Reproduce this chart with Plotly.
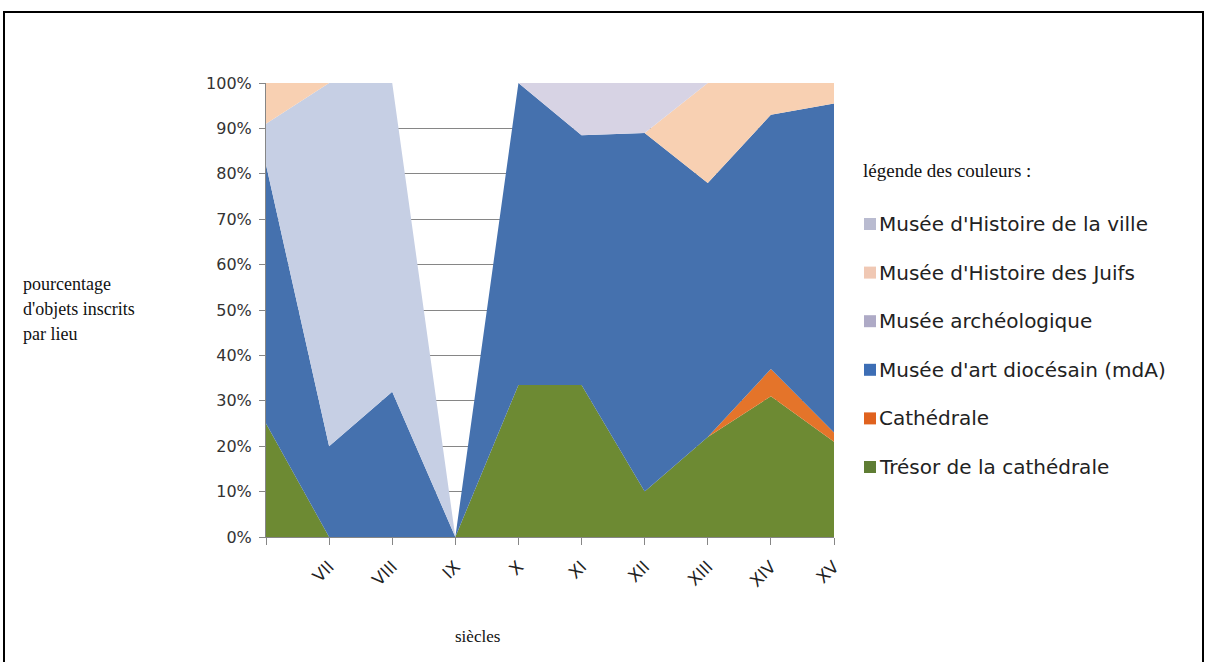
import plotly.graph_objects as go

# Centuries (the first position sits on the value axis and carries no label)
centuries = ["", "VII", "VIII", "IX", "X", "XI", "XII", "XIII", "XIV", "XV"]

# Share of registered objects per place, in percent (stacked bottom -> top)
tresor = [25, 0, 0, 0, 33.5, 33.5, 10, 22, 31, 21]
cathedrale = [0, 0, 0, 0, 0, 0, 0, 0, 6, 2]
musee_art_diocesain = [57, 20, 32, 0, 66.5, 55, 79, 56, 56, 72.5]
musee_archeologique = [9, 80, 68, 0, 0, 0, 0, 0, 0, 0]
musee_juifs = [9, 0, 0, 0, 0, 0, 0, 22, 7, 4.5]
musee_ville = [0, 0, 0, 0, 0, 11.5, 11, 0, 0, 0]

series_names = [
    "Trésor de la cathédrale",
    "Cathédrale",
    "Musée d'art diocésain (mdA)",
    "Musée archéologique",
    "Musée d'Histoire des Juifs",
    "Musée d'Histoire de la ville",
]
series_values = [tresor, cathedrale, musee_art_diocesain,
                 musee_archeologique, musee_juifs, musee_ville]
fill_colors = ["#6d8a33", "#e4742a", "#4571ae", "#c6cfe4", "#f8d0b2", "#d7d3e4"]
swatch_colors = ["#5f7d34", "#e0621e", "#3d6eb5", "#aeaac6", "#f0c8b4", "#b9bbd0"]

x_pos = list(range(len(centuries)))

fig = go.Figure()
for name, vals, col in zip(series_names, series_values, fill_colors):
    fig.add_trace(go.Scatter(
        x=x_pos, y=vals, name=name, mode="none",
        stackgroup="one", fill="tonexty", fillcolor=col,
        showlegend=False, hoverinfo="name+y",
    ))

W, H = 1207, 662
L, R, T, B = 266, 834, 83, 537


def px(xp):
    return (xp - L) / (R - L)


def py(yp):
    return (B - yp) / (B - T)


axis_grey = "#868686"
serif = "Liberation Serif"

shapes = [
    # outer frame of the chart
    dict(type="rect", xref="paper", yref="paper",
         x0=px(4), x1=px(1203), y0=py(680), y1=py(12),
         line=dict(color="black", width=2), fillcolor="rgba(0,0,0,0)"),
]
annotations = []

# y axis title on three lines
for i, line in enumerate(["pourcentage", "d'objets inscrits", "par lieu"]):
    annotations.append(dict(
        xref="paper", yref="paper", x=px(21), y=py(284 + 25 * i),
        xanchor="left", yanchor="middle", showarrow=False, text=line,
        font=dict(family=serif, size=18, color="#111111")))

# x axis title
annotations.append(dict(
    xref="paper", yref="paper", x=px(477), y=py(636),
    xanchor="center", yanchor="middle", showarrow=False, text="siècles",
    font=dict(family=serif, size=17, color="#111111")))

# colour key, top series first
annotations.append(dict(
    xref="paper", yref="paper", x=px(861), y=py(171),
    xanchor="left", yanchor="middle", showarrow=False,
    text="légende des couleurs :",
    font=dict(family=serif, size=19, color="#111111")))

key_order = list(range(len(series_names)))[::-1]
for row, idx in enumerate(key_order):
    yc = 224 + 48.6 * row
    shapes.append(dict(
        type="rect", xref="paper", yref="paper",
        x0=px(864), x1=px(876), y0=py(yc + 6), y1=py(yc - 6),
        line=dict(width=0), fillcolor=swatch_colors[idx]))
    annotations.append(dict(
        xref="paper", yref="paper", x=px(877), y=py(yc),
        xanchor="left", yanchor="middle", showarrow=False,
        text=series_names[idx],
        font=dict(family="DejaVu Sans", size=20, color="#222222")))

fig.update_layout(
    width=W, height=H,
    margin=dict(l=L, r=W - R, t=T, b=H - B, pad=0),
    paper_bgcolor="white", plot_bgcolor="white",
    showlegend=False,
    shapes=shapes, annotations=annotations,
    xaxis=dict(
        range=[0, len(centuries) - 1], tickmode="array",
        tickvals=x_pos, ticktext=centuries, tickangle=-45,
        ticks="outside", ticklen=7, tickcolor=axis_grey,
        ticklabelstandoff=5,
        showline=True, linecolor=axis_grey, linewidth=1,
        showgrid=False, zeroline=False,
        tickfont=dict(family="DejaVu Sans", size=17, color="#222222"),
    ),
    yaxis=dict(
        range=[0, 100], dtick=10, ticksuffix="%",
        ticks="outside", ticklen=6, tickcolor=axis_grey,
        ticklabelstandoff=4,
        showline=True, linecolor=axis_grey, linewidth=1,
        showgrid=True, gridcolor=axis_grey, gridwidth=1,
        zeroline=False,
        tickfont=dict(family="DejaVu Sans", size=16, color="#333333"),
    ),
)

fig.write_html("out.html")
